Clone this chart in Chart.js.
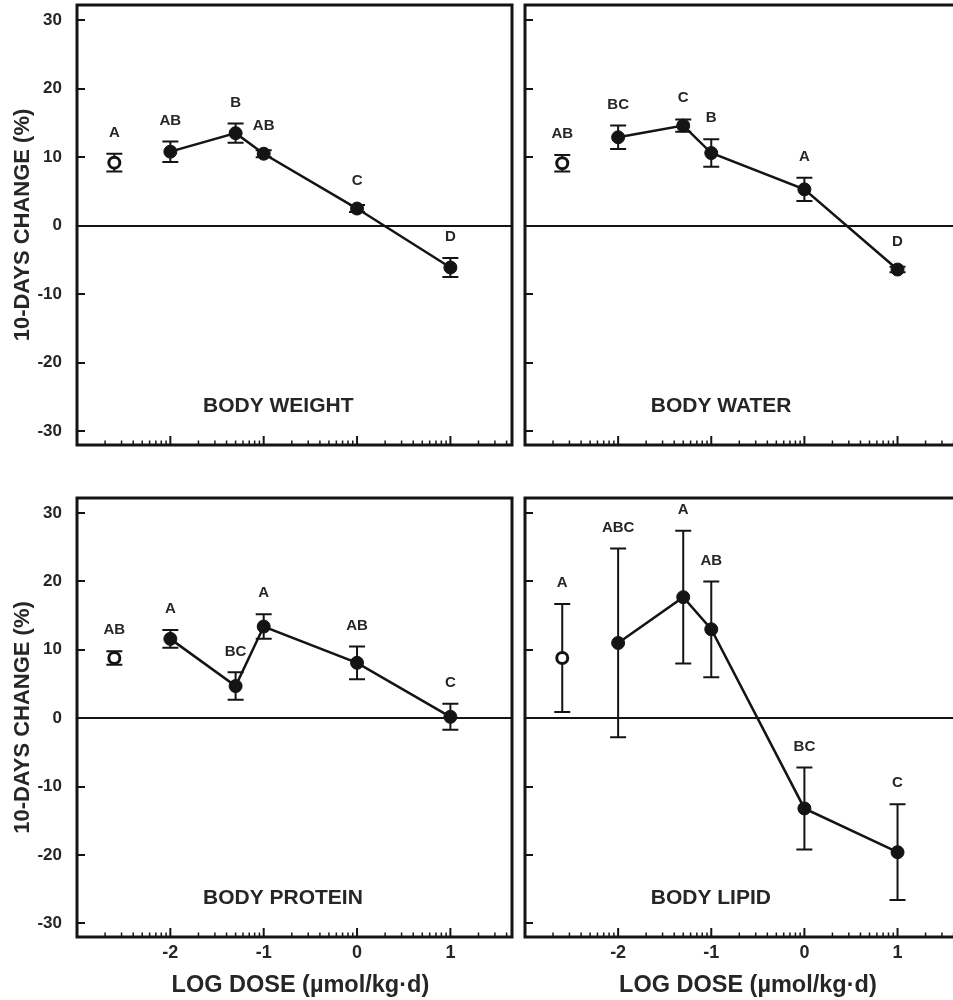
<!DOCTYPE html>
<html>
<head>
<meta charset="utf-8">
<script src="https://cdn.jsdelivr.net/npm/chart.js@4.4.1/dist/chart.umd.min.js"></script>
<style>
  html, body { margin: 0; padding: 0; background: #fff; width: 953px; height: 1000px; overflow: hidden; }
  .panel { position: absolute; }
</style>
</head>
<body>
<div class="panel" style="left:0;top:0"><canvas id="weight" width="518" height="468"></canvas></div>
<div class="panel" style="left:510px;top:0"><canvas id="water" width="460" height="468"></canvas></div>
<div class="panel" style="left:0;top:490px"><canvas id="protein" width="518" height="510"></canvas></div>
<div class="panel" style="left:510px;top:490px"><canvas id="lipid" width="460" height="510"></canvas></div>
<script>
// log dose of each treated group, and where the control is plotted
const doses = [-2, -1.301, -1, 0, 1];
const controlDose = -2.6;

const xTickValues = [-2, -1, 0, 1];
const xTickLabels = ['-2', '-1', '0', '1'];
const yTickValues = [-30, -20, -10, 0, 10, 20, 30];

// % change after 10 days, mean and SE
const weightMean = [10.8, 13.5, 10.5, 2.5, -6.1];
const weightErr = [1.5, 1.4, 0.5, 0.5, 1.4];
const weightLetters = ['AB', 'B', 'AB', 'C', 'D'];
const weightControl = 9.2, weightControlErr = 1.3, weightControlLetter = 'A';

const waterMean = [12.9, 14.6, 10.6, 5.3, -6.4];
const waterErr = [1.7, 0.9, 2.0, 1.7, 0.4];
const waterLetters = ['BC', 'C', 'B', 'A', 'D'];
const waterControl = 9.1, waterControlErr = 1.2, waterControlLetter = 'AB';

const proteinMean = [11.6, 4.7, 13.4, 8.1, 0.2];
const proteinErr = [1.3, 2.0, 1.8, 2.4, 1.9];
const proteinLetters = ['A', 'BC', 'A', 'AB', 'C'];
const proteinControl = 8.8, proteinControlErr = 1.0, proteinControlLetter = 'AB';

const lipidMean = [11.0, 17.7, 13.0, -13.2, -19.6];
const lipidErr = [13.8, 9.7, 7.0, 6.0, 7.0];
const lipidLetters = ['ABC', 'A', 'AB', 'BC', 'C'];
const lipidControl = 8.8, lipidControlErr = 7.9, lipidControlLetter = 'A';

const ink = '#141414';
const txt = '#262626';
const family = '"Liberation Sans", Arial, Helvetica, sans-serif';

// error bars, letters, panel name, box and the log tick marks
const panelDecor = {
  id: 'panelDecor',
  beforeDatasetsDraw(chart) {
    const ctx = chart.ctx, ys = chart.scales.y;
    ctx.save();
    ctx.strokeStyle = ink;
    ctx.lineWidth = 2;
    chart.data.datasets.forEach((ds, di) => {
      chart.getDatasetMeta(di).data.forEach((pt, i) => {
        const e = ds.errors[i];
        const top = ys.getPixelForValue(ds.data[i].y + e);
        const bot = ys.getPixelForValue(ds.data[i].y - e);
        ctx.beginPath();
        ctx.moveTo(pt.x, top); ctx.lineTo(pt.x, bot);
        ctx.moveTo(pt.x - 8, top); ctx.lineTo(pt.x + 8, top);
        ctx.moveTo(pt.x - 8, bot); ctx.lineTo(pt.x + 8, bot);
        ctx.stroke();
      });
    });
    ctx.restore();
  },
  afterDatasetsDraw(chart) {
    const ctx = chart.ctx, xs = chart.scales.x, ys = chart.scales.y;
    ctx.save();
    ctx.fillStyle = txt;
    ctx.textAlign = 'center';
    ctx.textBaseline = 'middle';
    ctx.font = 'bold 15px ' + family;
    chart.data.datasets.forEach((ds, di) => {
      chart.getDatasetMeta(di).data.forEach((pt, i) => {
        const top = Math.min(ys.getPixelForValue(ds.data[i].y + ds.errors[i]), pt.y - 7);
        ctx.fillText(ds.letters[i], pt.x, top - 21);
      });
    });
    ctx.textAlign = 'left';
    ctx.font = 'bold 21px ' + family;
    ctx.fillText(chart.options.plugins.panelDecor.name, xs.getPixelForValue(-1.65), ys.getPixelForValue(-26.3));
    ctx.restore();
  },
  afterDraw(chart) {
    const ctx = chart.ctx, xs = chart.scales.x, a = chart.chartArea;
    ctx.save();
    ctx.strokeStyle = ink;
    for (let d = -3; d <= 1; d++) {
      for (let k = 1; k <= 9; k++) {
        const v = d + Math.log10(k);
        if (v <= xs.min || v >= xs.max) continue;
        const px = xs.getPixelForValue(v);
        ctx.lineWidth = k === 1 ? 2 : 1.5;
        ctx.beginPath();
        ctx.moveTo(px, a.bottom);
        ctx.lineTo(px, a.bottom - (k === 1 ? 9 : 4.5));
        ctx.stroke();
      }
    }
    ctx.lineWidth = 3;
    ctx.strokeRect(a.left, a.top, a.right - a.left, a.bottom - a.top);
    ctx.restore();
  }
};

function makePanel(id, name, mean, err, letters, control, controlErr, controlLetter, cfg) {
  new Chart(document.getElementById(id), {
    type: 'line',
    data: {
      datasets: [
        {
          data: doses.map((d, i) => ({ x: d, y: mean[i] })),
          errors: err,
          letters: letters,
          borderColor: ink,
          borderWidth: 2.5,
          pointRadius: 6.5,
          pointBackgroundColor: ink,
          pointBorderColor: ink,
          pointBorderWidth: 1,
          tension: 0
        },
        {
          data: [{ x: controlDose, y: control }],
          errors: [controlErr],
          letters: [controlLetter],
          showLine: false,
          pointRadius: 5.5,
          pointBackgroundColor: '#fff',
          pointBorderColor: ink,
          pointBorderWidth: 3
        }
      ]
    },
    options: {
      responsive: false,
      animation: false,
      layout: { autoPadding: false, padding: cfg.padding },
      plugins: { legend: { display: false }, tooltip: { enabled: false }, panelDecor: { name: name } },
      scales: {
        x: {
          type: 'linear',
          min: -3,
          max: 1.66,
          afterBuildTicks: s => { s.ticks = xTickValues.map(v => ({ value: v })); },
          afterFit: s => { s.height = cfg.xHeight; s.paddingLeft = 0; s.paddingRight = 0; },
          border: { display: false },
          grid: { display: false, drawTicks: false },
          ticks: {
            display: cfg.showX,
            padding: 5,
            maxRotation: 0,
            autoSkip: false,
            color: txt,
            font: { family: family, size: 18, weight: 'bold' },
            callback: v => xTickLabels[xTickValues.indexOf(v)]
          },
          title: {
            display: cfg.showX,
            text: '\u2002LOG DOSE (µmol/kg·d)',
            color: txt,
            font: { family: family, size: 23.5, weight: 'bold' },
            padding: { top: 0, bottom: 0 }
          }
        },
        y: {
          type: 'linear',
          min: -32,
          max: 32.2,
          afterBuildTicks: s => { s.ticks = yTickValues.map(v => ({ value: v })); },
          afterFit: s => { s.width = cfg.yWidth; s.paddingTop = 0; s.paddingBottom = 0; },
          border: { display: false },
          grid: {
            color: c => (c.tick && c.tick.value === 0 ? ink : 'rgba(0,0,0,0)'),
            lineWidth: 2,
            drawTicks: true,
            tickLength: -8,
            tickColor: ink,
            tickWidth: 2
          },
          ticks: {
            display: cfg.showY,
            padding: 23,
            color: txt,
            font: { family: family, size: 17, weight: 'bold' }
          },
          title: {
            display: cfg.showY,
            text: '10-DAYS CHANGE (%)',
            color: txt,
            font: { family: family, size: 22, weight: 'bold' },
            padding: { top: 10, bottom: 0 }
          }
        }
      }
    },
    plugins: [panelDecor]
  });
}

makePanel('weight', 'BODY WEIGHT', weightMean, weightErr, weightLetters, weightControl, weightControlErr, weightControlLetter,
  { padding: { left: 0, top: 5, right: 6, bottom: 0 }, xHeight: 23, yWidth: 77, showX: false, showY: true });
makePanel('water', 'BODY WATER', waterMean, waterErr, waterLetters, waterControl, waterControlErr, waterControlLetter,
  { padding: { left: 0, top: 5, right: 11, bottom: 0 }, xHeight: 23, yWidth: 15, showX: false, showY: false });
makePanel('protein', 'BODY PROTEIN', proteinMean, proteinErr, proteinLetters, proteinControl, proteinControlErr, proteinControlLetter,
  { padding: { left: 0, top: 8, right: 6, bottom: 0 }, xHeight: 63, yWidth: 77, showX: true, showY: true });
makePanel('lipid', 'BODY LIPID', lipidMean, lipidErr, lipidLetters, lipidControl, lipidControlErr, lipidControlLetter,
  { padding: { left: 0, top: 8, right: 11, bottom: 0 }, xHeight: 63, yWidth: 15, showX: true, showY: false });
</script>
</body>
</html>
